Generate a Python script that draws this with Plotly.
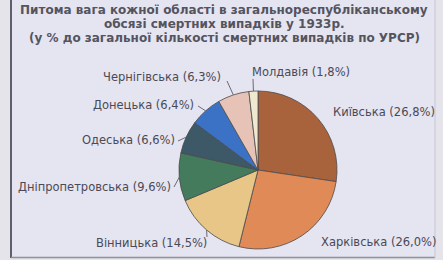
import math
import plotly.graph_objects as go

regions = ["Київська", "Харківська", "Вінницька", "Дніпропетровська",
           "Одеська", "Донецька", "Чернігівська", "Молдавія"]
shares = [26.8, 26.0, 14.5, 9.6, 6.6, 6.4, 6.3, 1.8]
share_text = ["26,8%", "26,0%", "14,5%", "9,6%", "6,6%", "6,4%", "6,3%", "1,8%"]
colors = ["#a8623c", "#e08b57", "#e7c687", "#447b5d",
          "#3d5866", "#3b72c6", "#e6c3b6", "#efe9cf"]
title_lines = [
    "Питома вага кожної області в загальнореспубліканському",
    "обсязі смертних випадків у 1933р.",
    "(у % до загальної кількості смертних випадків по УРСР)",
]

W, H = 443, 260
CX, CY, R = 258, 170, 79  # pie centre / radius in pixels

# label anchor positions (pixels) and anchors
label_pos = {
    "Київська": (332, 112, "left"),
    "Харківська": (320, 242, "left"),
    "Вінницька": (208, 243, "right"),
    "Дніпропетровська": (172, 187, "right"),
    "Одеська": (176, 140, "right"),
    "Донецька": (195, 105, "right"),
    "Чернігівська": (222, 77, "right"),
    "Молдавія": (251, 72, "left"),
}
leader_end = {
    "Вінницька": (207, 237),
    "Дніпропетровська": (174, 187),
    "Одеська": (178, 141),
    "Донецька": (198, 106),
    "Чернігівська": (227, 81),
    "Молдавія": (253, 79),
}

def px(x):
    return x / W

def py(y):
    return 1 - y / H

fig = go.Figure(go.Pie(
    labels=regions, values=shares, sort=False, direction="clockwise",
    rotation=0, textinfo="none", hoverinfo="label+percent",
    marker=dict(colors=colors, line=dict(color="#4a4a4e", width=0.8)),
    domain=dict(x=[px(CX - R), px(CX + R)], y=[py(CY + R), py(CY - R)]),
    showlegend=False,
))

shapes = [
    dict(type="rect", xref="paper", yref="paper", x0=px(11), x1=px(435),
         y0=py(257), y1=1.0, fillcolor="#e5e4f1", line=dict(width=0), layer="below"),
    dict(type="line", xref="paper", yref="paper", x0=px(11), x1=px(11),
         y0=py(258), y1=1.0, line=dict(color="#5d606c", width=2)),
    dict(type="line", xref="paper", yref="paper", x0=px(11), x1=px(435),
         y0=py(257.5), y1=py(257.5), line=dict(color="#8e909a", width=1.5)),
    dict(type="line", xref="paper", yref="paper", x0=px(435), x1=px(435),
         y0=py(258), y1=1.0, line=dict(color="#c6c6d0", width=1)),
]

FONT = "DejaVu Sans, Verdana, sans-serif"
annotations = []
total = sum(shares)
cum = 0.0
for name, val, txt in zip(regions, shares, share_text):
    mid = (cum + val / 2) / total
    cum += val
    ang = 2 * math.pi * mid
    ex, ey = CX + R * math.sin(ang), CY - R * math.cos(ang)
    x, y, anchor = label_pos[name]
    annotations.append(dict(
        x=px(x), y=py(y), xref="paper", yref="paper", xanchor=anchor, yanchor="middle",
        text=f"{name} ({txt})", showarrow=False, borderpad=0,
        font=dict(family=FONT, size=11.5, color="#4a4a56"),
    ))
    if name in leader_end:
        lx, ly = leader_end[name]
        shapes.append(dict(type="line", xref="paper", yref="paper",
                           x0=px(ex), y0=py(ey), x1=px(lx), y1=py(ly),
                           line=dict(color="#6a6a74", width=1)))

for i, line in enumerate(title_lines):
    annotations.append(dict(
        x=px(224), y=py(10 + 14 * i), xref="paper", yref="paper",
        xanchor="center", yanchor="middle", text=f"<b>{line}</b>", showarrow=False,
        borderpad=0,
        font=dict(family=FONT, size=12, color="#54545f"),
    ))

fig.update_layout(
    width=W, height=H, margin=dict(l=0, r=0, t=0, b=0),
    paper_bgcolor="#e4e4ea", plot_bgcolor="#e4e4ea",
    shapes=shapes, annotations=annotations,
)

fig.write_html("out.html", config={"displayModeBar": False},
               post_script="document.body.style.margin='0';")
